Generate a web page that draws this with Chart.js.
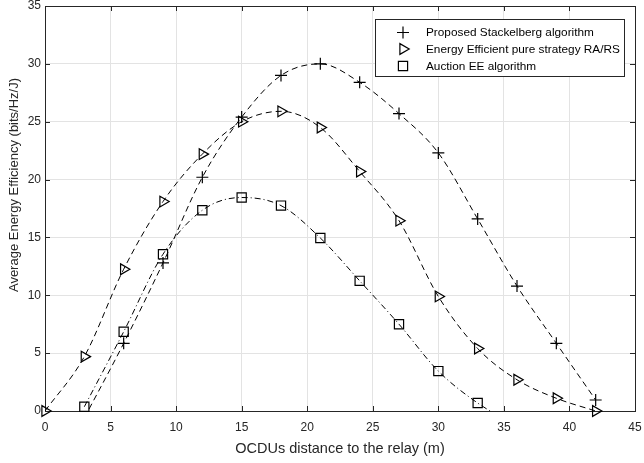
<!DOCTYPE html>
<html>
<head>
    <title>Average Energy Efficiency</title>
    <script src="https://cdn.jsdelivr.net/npm/chart.js"></script>
    <style>
        body {
            margin: 0;
            background-color: #fff;
        }
        .chart-container {
            width: 644px;
            height: 463px;
            position: relative;
        }
    </style>
</head>
<body>
<div class="chart-container">
    <canvas id="eeChart"></canvas>
</div>

<script>
    // OCDU distance (m), one marker every 3 m
    const distances = [0, 3, 6, 9, 12, 15, 18, 21, 24, 27, 30, 33, 36, 39, 42];

    // values (bits/Hz/J); negatives are where the curve runs under the axis
    const stackelberg = [null, -0.6, 5.85, 12.8, 20.2, 25.4, 29.0, 30.0, 28.4, 25.7, 22.3, 16.6, 10.8, 5.85, 0.95];
    const pureStrategy = [0, 4.7, 12.25, 18.1, 22.2, 25.0, 25.9, 24.5, 20.7, 16.45, 9.9, 5.4, 2.7, 1.1, 0];
    const auction = [null, 0.37, 6.85, 13.55, 17.35, 18.45, 17.75, 14.95, 11.25, 7.5, 3.45, 0.69, -1.3, null, null];

    const seriesNames = [
        'Proposed Stackelberg algorithm',
        'Energy Efficient pure strategy RA/RS',
        'Auction EE algorithm'
    ];

    const xTicks = [0, 5, 10, 15, 20, 25, 30, 35, 40, 45];
    const yTicks = [0, 5, 10, 15, 20, 25, 30, 35];

    const yTitle = 'Average Energy Efficiency (bits/Hz/J)';
    const FONT = "'Liberation Sans', Arial, sans-serif";

    const toPoints = (vals) => distances.map((x, i) => ({ x: x, y: vals[i] }));
    const toMarkers = (vals) => distances.map((x, i) => ({ x: x, y: (vals[i] === null || vals[i] < 0) ? null : vals[i] }));

    const styles = [
        { dash: [6, 4], pointStyle: 'cross', radius: 6, rotation: 0 },
        { dash: [6, 4], pointStyle: 'triangle', radius: 6.2, rotation: 90 },
        { dash: [6, 3, 1, 3], pointStyle: 'rect', radius: 6.5, rotation: 0 }
    ];
    const allSeries = [stackelberg, pureStrategy, auction];

    const datasets = [];
    allSeries.forEach((vals, i) => {
        // the dashed curve, clipped to the axes
        datasets.push({
            label: seriesNames[i] + ' curve',
            data: toPoints(vals),
            borderColor: '#000',
            borderWidth: 1,
            borderDash: styles[i].dash,
            pointRadius: 0,
            cubicInterpolationMode: 'monotone',
            clip: 0
        });
    });
    allSeries.forEach((vals, i) => {
        // the markers, allowed to sit on the axis lines
        datasets.push({
            label: seriesNames[i],
            data: toMarkers(vals),
            showLine: false,
            borderColor: '#000',
            backgroundColor: 'rgba(0,0,0,0)',
            pointStyle: styles[i].pointStyle,
            pointRotation: styles[i].rotation,
            pointRadius: styles[i].radius,
            pointBorderWidth: 1.2,
            clip: false
        });
    });

    // box around the axes with inward ticks, like matlab
    const framePlugin = {
        id: 'frame',
        beforeDatasetsDraw(chart) {
            const { ctx, chartArea: a, scales } = chart;
            ctx.save();
            ctx.strokeStyle = '#262626';
            ctx.lineWidth = 1;
            ctx.beginPath();
            xTicks.forEach(v => {
                const px = Math.round(scales.x.getPixelForValue(v)) + 0.5;
                ctx.moveTo(px, a.bottom); ctx.lineTo(px, a.bottom - 5);
                ctx.moveTo(px, a.top); ctx.lineTo(px, a.top + 5);
            });
            yTicks.forEach(v => {
                const py = Math.round(scales.y.getPixelForValue(v)) + 0.5;
                ctx.moveTo(a.left, py); ctx.lineTo(a.left + 5, py);
                ctx.moveTo(a.right, py); ctx.lineTo(a.right - 5, py);
            });
            ctx.stroke();
            ctx.strokeRect(Math.round(a.left) + 0.5, Math.round(a.top) + 0.5,
                Math.round(a.right - a.left), Math.round(a.bottom - a.top));

            // y title sits a bit above the middle in the original
            ctx.translate(14, 185);
            ctx.rotate(-Math.PI / 2);
            ctx.fillStyle = '#262626';
            ctx.font = '13px ' + FONT;
            ctx.textAlign = 'center';
            ctx.textBaseline = 'middle';
            ctx.fillText(yTitle, 0, 0);
            ctx.restore();
        }
    };

    // legend box in the top right corner of the plot
    const legendPlugin = {
        id: 'boxLegend',
        afterDatasetsDraw(chart) {
            const ctx = chart.ctx;
            const box = { left: 375, top: 19, right: 624, bottom: 76 };
            ctx.save();
            ctx.fillStyle = '#fff';
            ctx.fillRect(box.left, box.top, box.right - box.left, box.bottom - box.top);
            ctx.strokeStyle = '#262626';
            ctx.lineWidth = 1;
            ctx.strokeRect(box.left + 0.5, box.top + 0.5, box.right - box.left, box.bottom - box.top);
            const rows = [32.5, 49, 66];
            seriesNames.forEach((name, i) => {
                ctx.strokeStyle = '#000';
                ctx.fillStyle = 'rgba(0,0,0,0)';
                ctx.lineWidth = 1.2;
                Chart.helpers.drawPoint(ctx, {
                    pointStyle: styles[i].pointStyle,
                    rotation: styles[i].rotation,
                    radius: styles[i].radius,
                    borderWidth: 1.2
                }, 403, rows[i]);
                ctx.fillStyle = '#000';
                ctx.font = '11.8px ' + FONT;
                ctx.textBaseline = 'middle';
                ctx.textAlign = 'left';
                ctx.fillText(name, 426, rows[i] + 0.5);
            });
            ctx.restore();
        }
    };

    new Chart(document.getElementById('eeChart').getContext('2d'), {
        type: 'line',
        data: { datasets: datasets },
        options: {
            responsive: true,
            maintainAspectRatio: false,
            animation: false,
            events: [],
            layout: { autoPadding: false, padding: { left: 3, right: 9, top: 6, bottom: 1 } },
            plugins: {
                legend: { display: false },
                tooltip: { enabled: false }
            },
            scales: {
                x: {
                    type: 'linear',
                    min: 0,
                    max: 45,
                    afterBuildTicks: (scale) => { scale.ticks = xTicks.map(v => ({ value: v })); },
                    afterFit: (scale) => {
                        scale.height = 51;
                        scale.paddingLeft = 0;
                        scale.paddingRight = 0;
                    },
                    grid: { color: '#e3e3e3', drawTicks: false },
                    border: { display: false },
                    ticks: { color: '#262626', padding: 9, maxRotation: 0, font: { family: FONT, size: 12 } },
                    title: {
                        display: true,
                        text: 'OCDUs distance to the relay (m)',
                        color: '#262626',
                        font: { family: FONT, size: 14.5 }
                    }
                },
                y: {
                    min: 0,
                    max: 35,
                    afterBuildTicks: (scale) => { scale.ticks = yTicks.map(v => ({ value: v })); },
                    afterFit: (scale) => {
                        scale.width = 42;
                        scale.paddingTop = 0;
                        scale.paddingBottom = 0;
                    },
                    grid: { color: '#e3e3e3', drawTicks: false },
                    border: { display: false },
                    ticks: { color: '#262626', padding: 4, font: { family: FONT, size: 12 } },
                    title: { display: false }
                }
            }
        },
        plugins: [framePlugin, legendPlugin]
    });
</script>
</body>
</html>
